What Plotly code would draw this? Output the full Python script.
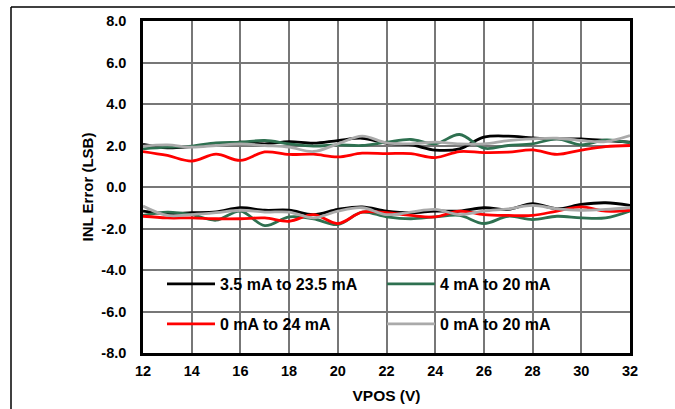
import plotly.graph_objects as go

vpos = list(range(12, 33))

black_hi = [2.05, 1.89, 1.95, 2.03, 2.16, 2.08, 2.19, 2.11, 2.24, 2.35, 2.11, 2.03, 1.78, 1.84, 2.40, 2.45, 2.37, 2.32, 2.32, 2.24, 2.16]
black_lo = [-1.16, -1.28, -1.24, -1.20, -1.00, -1.12, -1.12, -1.33, -1.08, -0.96, -1.16, -1.24, -1.16, -1.16, -1.00, -1.08, -0.80, -1.05, -0.84, -0.76, -0.89]
green_hi = [1.84, 1.92, 1.97, 2.13, 2.16, 2.24, 2.08, 1.97, 2.03, 2.00, 2.16, 2.29, 2.08, 2.53, 1.87, 2.00, 2.08, 2.32, 2.03, 2.27, 2.13]
green_lo = [-1.37, -1.21, -1.33, -1.60, -1.16, -1.86, -1.44, -1.53, -1.81, -1.21, -1.44, -1.53, -1.44, -1.37, -1.76, -1.41, -1.57, -1.41, -1.49, -1.49, -1.16]
red_hi = [1.71, 1.52, 1.25, 1.58, 1.28, 1.69, 1.57, 1.58, 1.45, 1.63, 1.61, 1.61, 1.42, 1.71, 1.66, 1.68, 1.79, 1.57, 1.78, 1.95, 2.00]
red_lo = [-1.41, -1.49, -1.49, -1.53, -1.53, -1.49, -1.65, -1.33, -1.76, -1.21, -1.24, -1.37, -1.44, -1.16, -1.33, -1.37, -1.37, -1.16, -0.96, -1.16, -1.12]
gray_hi = [1.97, 2.03, 1.92, 2.00, 2.08, 2.00, 1.92, 1.71, 2.08, 2.45, 2.13, 2.08, 2.16, 2.08, 2.08, 2.24, 2.32, 2.35, 2.24, 2.19, 2.48]
gray_lo = [-0.92, -1.37, -1.33, -1.24, -1.12, -1.21, -1.21, -1.49, -1.16, -1.00, -1.33, -1.21, -1.08, -1.33, -1.16, -1.05, -0.89, -1.05, -1.12, -1.08, -1.00]

y_tickvals = [-8, -6, -4, -2, 0, 2, 4, 6, 8]
y_ticktext = ["-8.0", "-6.0", "-4.0", "-2.0", "0.0", "2.0", "4.0", "6.0", "8.0"]
x_tickvals = [12, 14, 16, 18, 20, 22, 24, 26, 28, 30, 32]

names = ["3.5 mA to 23.5 mA", "4 mA to 20 mA", "0 mA to 24 mA", "0 mA to 20 mA"]
colors = ["#000000", "#2e7050", "#ff0000", "#aaaaaa"]
legends = ["legend", "legend", "legend2", "legend2"]
series = [(black_hi, black_lo), (green_hi, green_lo), (red_hi, red_lo), (gray_hi, gray_lo)]

FONT = "Liberation Sans, Arial, sans-serif"
def bold(size):
    return dict(family=FONT, size=size, color="black", weight="bold")

fig = go.Figure()
for name, col, lg, (hi, lo) in zip(names, colors, legends, series):
    fig.add_trace(go.Scatter(
        x=vpos + [None] + vpos, y=hi + [None] + lo,
        mode="lines", name=name, legend=lg,
        line=dict(color=col, width=2.8, shape="spline", smoothing=1.0),
        connectgaps=False,
    ))

pw, ph = 487, 332
def px(x): return (x - 143) / pw
def py(y): return (353 - y) / ph

leg_common = dict(orientation="h", xanchor="left", yanchor="middle",
                  bgcolor="rgba(0,0,0,0)", borderwidth=0, entrywidth=157, entrywidthmode="pixels",
                  itemwidth=48, font=bold(16))

fig.update_layout(
    width=675, height=409,
    margin=dict(l=143, r=45, t=21, b=56, autoexpand=False),
    paper_bgcolor="white", plot_bgcolor="white",
    font=bold(14),
    showlegend=True,
    legend=dict(x=px(162), y=py(284), **leg_common),
    legend2=dict(x=px(162), y=py(324), **leg_common),
    shapes=[
        dict(type="rect", xref="paper", yref="paper", x0=px(152), x1=px(591), y0=py(345), y1=py(262),
             fillcolor="white", line=dict(width=0), layer="between"),
        dict(type="line", xref="paper", yref="paper", x0=px(11), x1=px(680), y0=py(7), y1=py(7),
             line=dict(color="black", width=1.5)),
        dict(type="line", xref="paper", yref="paper", x0=px(11), x1=px(11), y0=py(7), y1=py(415),
             line=dict(color="black", width=1.5)),
    ],
)

fig.update_xaxes(
    range=[12, 32], tickvals=x_tickvals, automargin=False,
    showgrid=True, gridcolor="#777777", gridwidth=1.5,
    showline=True, linecolor="black", linewidth=2.5, mirror=True,
    ticks="", ticklabelstandoff=3,
    tickfont=bold(14.5),
    title=dict(text="VPOS (V)", standoff=12, font=bold(15.5)),
    zeroline=False,
)
fig.update_yaxes(
    range=[-8, 8], tickvals=y_tickvals, ticktext=y_ticktext, automargin=False,
    showgrid=True, gridcolor="#777777", gridwidth=1.5,
    showline=True, linecolor="black", linewidth=2.5, mirror=True,
    ticks="", ticklabelstandoff=11,
    tickfont=bold(14.5),
    title=dict(text="INL Error (LSB)", standoff=5, font=bold(15)),
    zeroline=False,
)

fig.write_html("out.html", config={"displayModeBar": False},
               post_script="document.body.style.margin='0';document.body.style.overflow='hidden';")
